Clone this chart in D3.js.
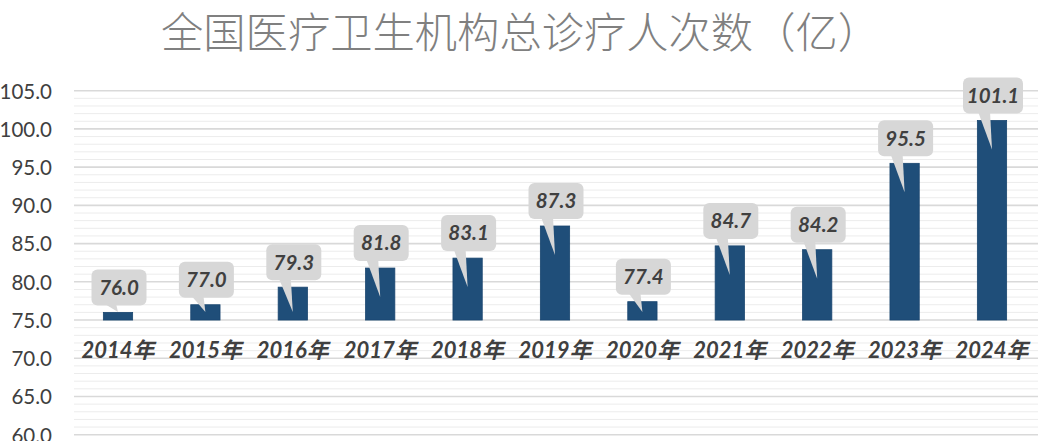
<!DOCTYPE html>
<html><head><meta charset="utf-8">
<script src="https://cdn.jsdelivr.net/npm/d3@7"></script>
<style>
html,body{margin:0;padding:0;background:#fff;overflow:hidden;}
svg{display:block;}
</style></head>
<body>
<svg id="chart" width="1038" height="441"></svg>
<script>
const title = "全国医疗卫生机构总诊疗人次数（亿）";
const years = ["2014年","2015年","2016年","2017年","2018年","2019年","2020年","2021年","2022年","2023年","2024年"];
const visits = [76.0, 77.0, 79.3, 81.8, 83.1, 87.3, 77.4, 84.7, 84.2, 95.5, 101.1];
const yTicks = [60, 65, 70, 75, 80, 85, 90, 95, 100, 105];
const yMinorTicks = d3.range(60, 106, 1);
const barBase = 75;

const svg = d3.select("#chart");
const W = 1038, H = 441;
svg.append("rect").attr("width", W).attr("height", H).attr("fill", "#fff");

const x = d3.scaleBand().domain(years).range([74.3, 1035.7]).paddingInner(0.665).paddingOuter(0.3325);
const y = d3.scaleLinear().domain([60, 105]).range([434.7, 90.7]);

// minor gridlines
svg.append("g").selectAll("line").data(yMinorTicks.filter(v => v % 5 !== 0)).join("line")
  .attr("x1", 74).attr("x2", W).attr("y1", d => y(d)).attr("y2", d => y(d))
  .attr("stroke", "#ececec").attr("stroke-width", 1);

// major gridlines via axis
const yAxis = d3.axisLeft(y).tickValues(yTicks).tickFormat(d3.format(".1f")).tickSize(0).tickPadding(0);
const gy = svg.append("g").attr("transform", "translate(52,0)").call(yAxis);
gy.select(".domain").remove();
gy.selectAll("text").attr("font-family", "Lato, 'Noto Sans', sans-serif").attr("font-size", 20.5)
  .attr("fill", "#404040").attr("dy", "0.36em");
svg.append("g").selectAll("line").data(yTicks).join("line")
  .attr("x1", 74).attr("x2", W).attr("y1", d => y(d)).attr("y2", d => y(d))
  .attr("stroke", "#d9d9d9").attr("stroke-width", 1.6);

// bars
svg.append("g").selectAll("rect").data(visits).join("rect")
  .attr("x", (d, i) => x(years[i]))
  .attr("width", x.bandwidth())
  .attr("y", d => y(d))
  .attr("height", d => y(barBase) - y(d))
  .attr("fill", "#1f4e79").attr("stroke", "#1a4670").attr("stroke-width", 0.8);

// category labels
const xAxis = d3.axisBottom(x).tickSize(0).tickPadding(0);
const gx = svg.append("g").attr("transform", `translate(0,${y(70)})`).call(xAxis);
gx.select(".domain").remove();
gx.selectAll("text").attr("font-family", "Lato, 'Noto Sans CJK SC', sans-serif").attr("font-size", 22)
  .attr("font-style", "italic").attr("font-weight", 700).attr("fill", "#404040")
  .attr("dy", "0em").attr("y", 0);

// callouts
const fmt = d3.format(".1f");
const boxH = 36;
const callouts = svg.append("g").selectAll("g").data(visits).join("g");
callouts.each(function(d, i) {
  const g = d3.select(this);
  const cx = x(years[i]) + x.bandwidth() / 2;
  const top = y(d);
  const boxBottom = top - 7;
  const label = fmt(d);
  const bw = label.length > 4 ? 60 : 55;
  const tip = Math.min(boxBottom + 36, y(barBase) - 8);
  g.append("path")
    .attr("d", `M${cx - 14},${boxBottom - 2} L${cx - 2},${boxBottom - 2} L${cx},${tip} Z`)
    .attr("fill", "#d7d7d7");
  g.append("rect")
    .attr("x", cx - bw / 2 + 1).attr("y", boxBottom - boxH)
    .attr("width", bw).attr("height", boxH).attr("rx", 6)
    .attr("fill", "#d7d7d7");
  g.append("text")
    .attr("x", cx + 1).attr("y", boxBottom - boxH / 2)
    .attr("dy", "0.36em").attr("text-anchor", "middle")
    .attr("font-family", "Lato, 'Noto Sans', sans-serif").attr("font-size", 20.5)
    .attr("font-style", "italic").attr("font-weight", 700).attr("fill", "#404040")
    .text(label);
});

// title
svg.append("text").attr("x", 161).attr("y", 48)
  .attr("font-family", "'Noto Sans CJK SC', sans-serif").attr("font-size", 42.3)
  .attr("font-weight", 300).attr("fill", "#808080")
  .text(title);
</script>
</body></html>
